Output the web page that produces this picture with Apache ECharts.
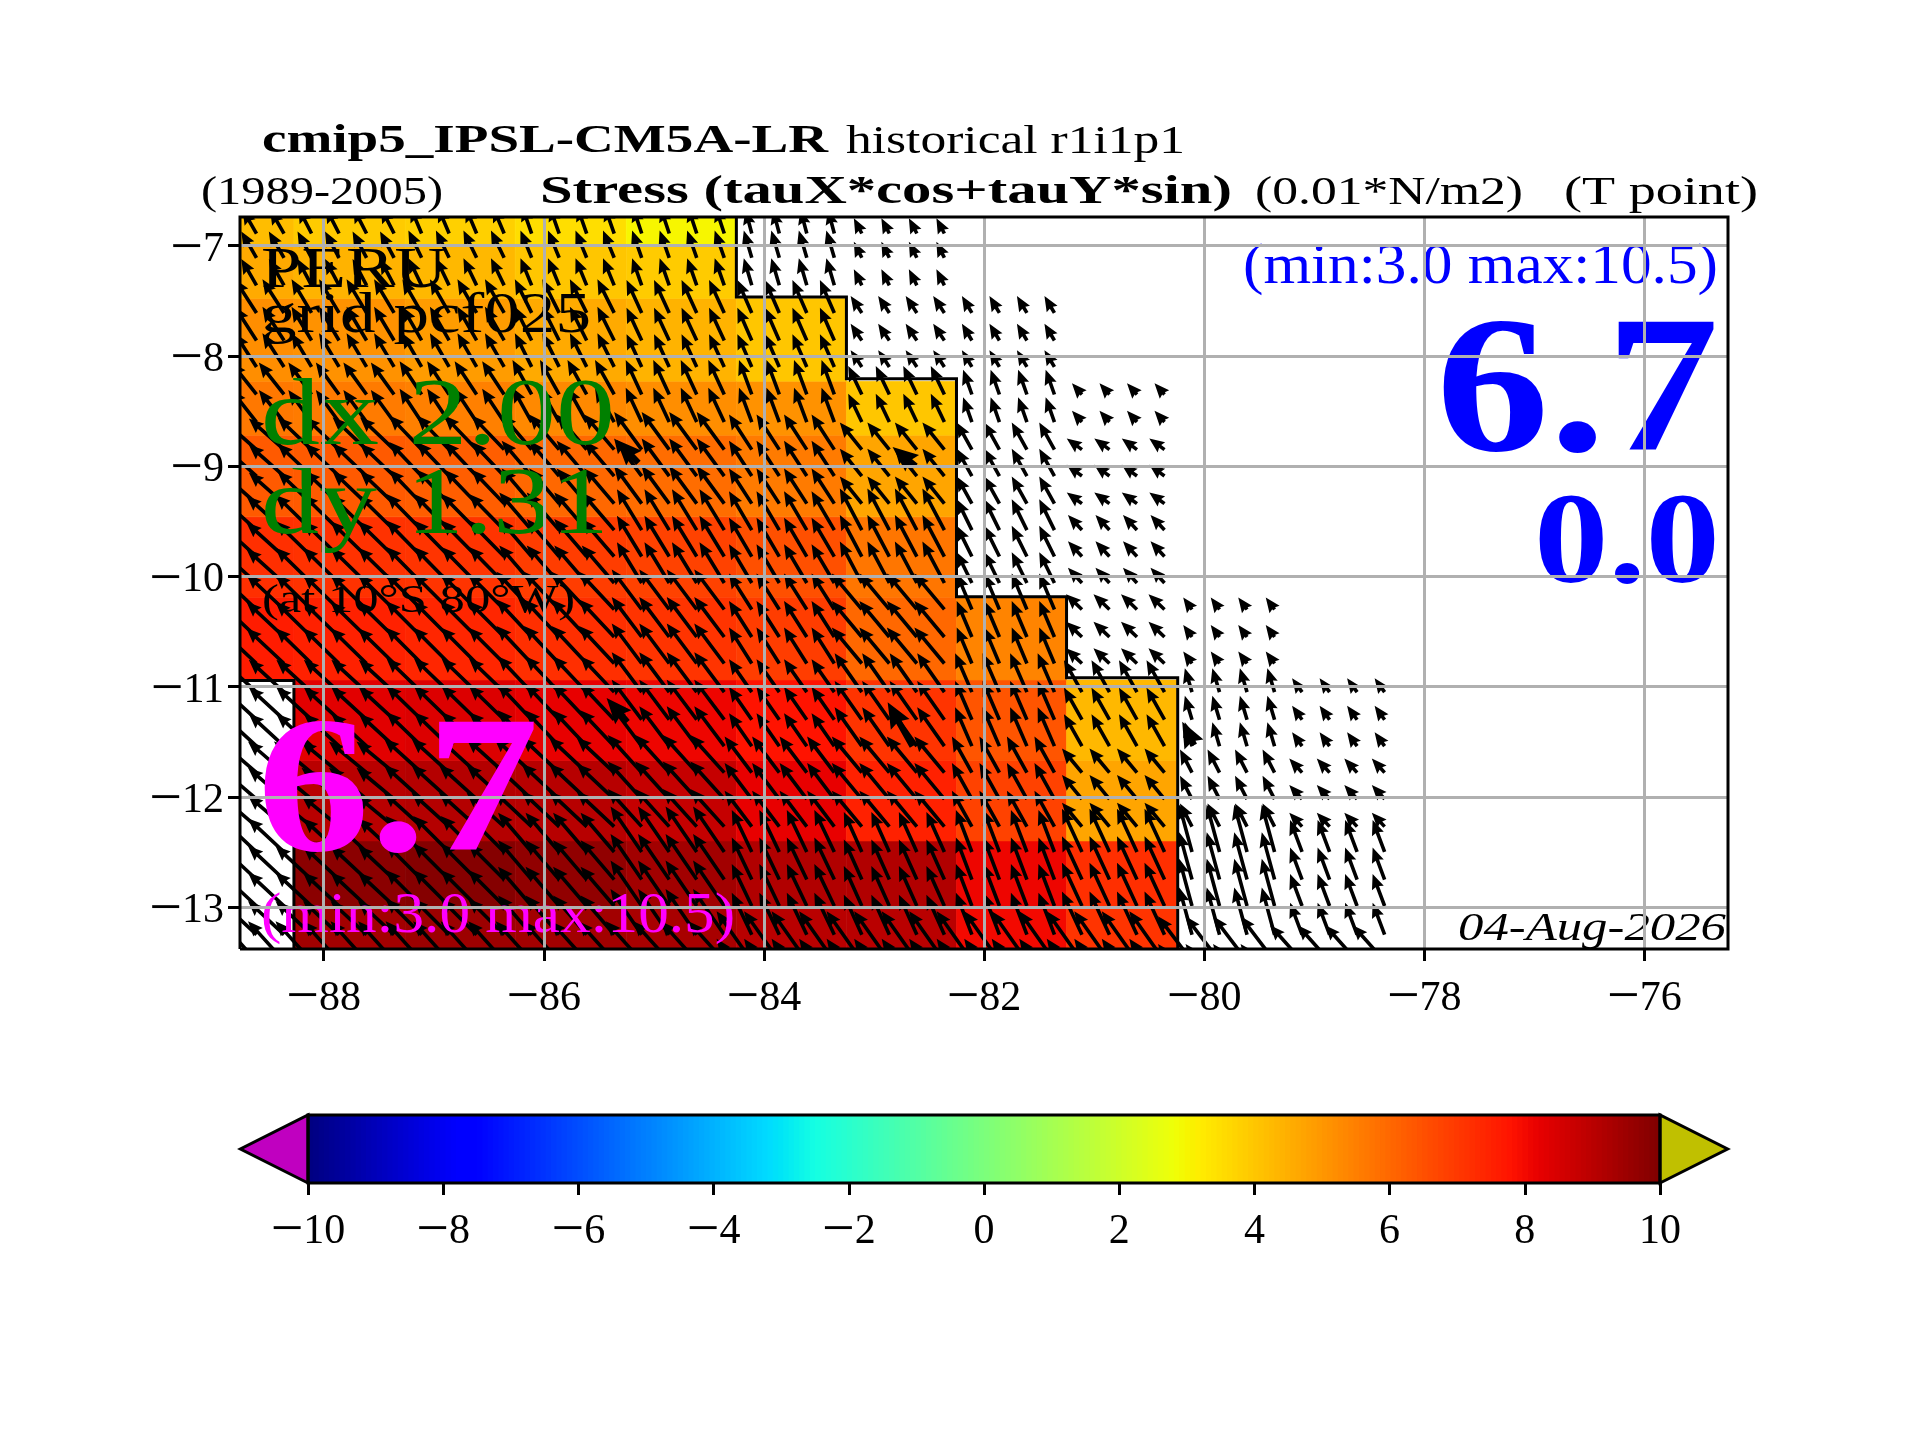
<!DOCTYPE html>
<html><head><meta charset="utf-8">
<style>html,body{margin:0;padding:0;background:#fff}#c{width:1920px;height:1440px}</style>
<script src="https://cdn.jsdelivr.net/npm/echarts@6/dist/echarts.min.js"></script>
</head><body><div id="c"></div>
<script>
// ---------- data ----------
const xTicks = [-88,-86,-84,-82,-80,-78,-76];
const yTicks = [-13,-12,-11,-10,-9,-8,-7];
const cbTicks = [-10,-8,-6,-4,-2,0,2,4,6,8,10];
const lonEdges = [-88.76,-88.27,-87.26,-86.26,-85.25,-84.25,-83.25,-82.25,-81.25,-80.25];
const latEdges = [-13.38,-12.99,-12.40,-11.67,-10.94,-10.19,-9.46,-8.72,-8.23,-7.48,-7.0,-6.74];
const stressR0  = [null,9.4,9.5,9.4,9.3,9.0,9.0,8.0,7.1];
const stressR1  = [null,9.8,9.9,9.7,9.4,9.15,9.15,8.1,7.2];
const stressR2  = [null,9.0,9.1,9.05,8.8,8.2,7.5,6.8,4.7];
const stressR3  = [null,8.3,8.4,8.2,8.1,7.8,7.1,6.4,4.3];
const stressR4  = [7.6,7.5,7.4,7.2,7.1,6.9,6.0,5.4];
const stressR5  = [7.2,7.15,7.1,6.9,6.8,6.5,5.7];
const stressR6  = [6.3,6.3,6.2,6.0,5.9,5.6,4.7];
const stressR7  = [5.65,5.6,5.5,5.3,5.2,5.1,4.0];
const stressR8  = [5.2,5.1,4.9,4.6,4.4,4.0];
const stressR9  = [4.6,4.4,4.3,4.0,3.9];
const stressR10 = [4.2,3.9,3.8,3.5,3.0];
const stressRows = [stressR0,stressR1,stressR2,stressR3,stressR4,stressR5,stressR6,stressR7,stressR8,stressR9,stressR10];
// staircase outline of the coloured area
const outlineLons = [-84.25,-84.25,-83.25,-83.25,-82.25,-82.25,-81.25,-81.25,-80.24,-80.24];
const outlineLats = [-6.74,-7.465,-7.465,-8.207,-8.207,-10.185,-10.185,-10.92,-10.92,-13.38];
const stripLons = [-88.27,-88.27,-88.76];
const stripLats = [-13.38,-10.945,-10.945];
// arrow tails: longitude groups (one group per block column), latitude groups (one per block row)
const arrowLonGroups = [
 [-89.11,-88.86,-88.61,-88.36],[-88.11,-87.86,-87.61,-87.36],[-87.11,-86.86,-86.61,-86.36],[-86.11,-85.86,-85.61,-85.36],
 [-85.11,-84.86,-84.61,-84.36],[-84.11,-83.86,-83.61,-83.36],[-83.11,-82.86,-82.61,-82.36],[-82.11,-81.86,-81.61,-81.36],
 [-81.11,-80.86,-80.61,-80.36],[-80.11,-79.86,-79.61,-79.36],[-79.11,-78.86,-78.61,-78.36]];
const arrowLatGroups = [
 [-13.74,-13.49],[-13.25,-12.99,-12.75,-12.5],[-12.27,-12.02,-11.78],[-11.54,-11.30,-11.05],[-10.79,-10.55,-10.30],
 [-10.06,-9.82,-9.58],[-9.34,-9.09,-8.85],[-8.60,-8.35],[-8.10,-7.86,-7.61],[-7.36,-7.11],[-6.89]];
// eastward / northward stress per block
const tauU = [
 [-9,-9,-9,-9,-9,-8.8,-8.8,-8.8,-8.8,-8.5,-8],
 [-9,-9,-9,-8.4,-7.8,-5,-4.5,-4,-5,-3.2,-3],
 [-9,-9.4,-9.4,-9.4,-8.5,-6.8,-7.5,-5,-5,-3,-3.2],
 [-8.8,-8.8,-8.8,-8.5,-7.5,-5.7,-6.8,-4.2,-4.5,-1.8,-2.5],
 [-9.4,-9,-9,-8.8,-7.5,-5.7,-7.5,-3.8,-4,-2.2],
 [-9.4,-9,-8.8,-8.1,-6.2,-5.7,-5.5,-3.8,-3.5],
 [-8.8,-8.5,-8.1,-7.5,-6.9,-5.7,-5.5,-3.8,-3.8],
 [-6.3,-5.8,-5.5,-4.8,-4,-3.2,-3.4,-2.2,-2.5],
 [-5.4,-5,-4.8,-4.2,-3.8,-3.6,-2.8,-2.5],
 [-3.8,-3.5,-3.3,-2.8,-2.4,-2,-2],
 [-3.5,-3.3,-2.8,-2.4,-2.2,-1.6,-2]];
const tauV = [
 [10,10,10,10,10,12.5,12.5,12.5,12.5,11.2,9],
 [8.4,8.4,9,9.8,11.4,10.5,10,10.5,10.8,11.8,8],
 [7.8,7.8,8.5,8.8,9.4,9,9,9,6,5.8,3.5],
 [8.1,8.1,8.5,9,10,8.2,9.7,9.7,8,6,3.5],
 [8.8,8.8,9,9.4,10,9,9,9,3.8,3],
 [8.5,8.8,9,9.4,10.2,9.7,10.4,7.7,3.8],
 [7.8,8.1,8.5,8.8,9.4,8.8,6.8,6.8,2.8],
 [8,8,8.3,8.6,8.6,8.6,7.1,6.2,2.8],
 [8.4,8.4,8.4,8.4,8.2,8.2,4.2,4.2],
 [6.6,6.6,6.8,6.8,6.8,6.8,4],
 [6,6.4,6.6,6.8,6.6,6,3.8]];
// the five heavier arrows
const bigLons = [-82.65,-80.09,-82.62,-85.14,-85.24];
const bigLats = [-11.54,-11.53,-9.0,-8.97,-11.32];
const bigU = [-6.2,-3,-5.8,-5.5,-5.2];
const bigV = [11,5.8,4.8,5.8,6];
const cbExtend = [-11,11];

// ---------- helpers ----------
function jetCh(t,p){for(let i=1;i<p.length;i++){if(t<=p[i][0]){const a=p[i-1],b=p[i];return a[1]+(b[1]-a[1])*(t-a[0])/(b[0]-a[0]);}}return p[p.length-1][1];}
function jet(v){
 const t=Math.max(0,Math.min(1,(v+10)/20));
 const r=jetCh(t,[[0,0],[.35,0],[.66,1],[.89,1],[1,.5]]);
 const g=jetCh(t,[[0,0],[.125,0],[.375,1],[.64,1],[.91,0],[1,0]]);
 const b=jetCh(t,[[0,.5],[.11,1],[.34,1],[.65,0],[1,0]]);
 return `rgb(${Math.round(r*255)},${Math.round(g*255)},${Math.round(b*255)})`;
}
const cells=[];
stressRows.forEach((row,r)=>row.forEach((v,c)=>{if(v!==null)cells.push([lonEdges[c],lonEdges[c+1],latEdges[r],latEdges[r+1],v]);}));
const arrows=[];
tauU.forEach((row,r)=>row.forEach((u,c)=>{
  arrowLatGroups[r].forEach(la=>arrowLonGroups[c].forEach(lo=>arrows.push([lo,la,u,tauV[r][c],1])));
}));
bigLons.forEach((lo,i)=>arrows.push([lo,bigLats[i],bigU[i],bigV[i],1.7]));
const PX_PER_UNIT=4;
const cbSteps=[];
for(let i=0;i<256;i++)cbSteps.push([-10+i*20/256,-10+(i+1)*20/256]);

const FONT='"Liberation Serif"';
const mctx=document.createElement('canvas').getContext('2d');
function T(text,x0,x1,base,size,color,weight,style){
  const font=`${style||'normal'} ${weight||'normal'} ${size}px ${FONT}`;
  mctx.font=font;
  const w=mctx.measureText(text).width;
  return {type:'text',z:10,x:x0,y:base-0.273*size,scaleX:(x1-x0)/w,silent:true,
    style:{text,font,fill:color||'#000',textAlign:'left',verticalAlign:'middle'}};
}
const texts=[
 T('cmip5_IPSL-CM5A-LR',262,828,153,40,'#000','bold'),
 T('historical r1i1p1',846,1185,153,40),
 T('(1989-2005)',201,443,204,40),
 T('Stress (tauX*cos+tauY*sin)',540,1232,204,40,'#000','bold'),
 T('(0.01*N/m2)',1255,1523,204,40),
 T('(T point)',1564,1758,204,40),
 T('PERU',261,447,288,56),
 T('grid pcf025',261,591,333,56),
 T('dx 2.00',261,615,445,95,'#008000'),
 T('dy 1.31',261,609,534,95,'#008000'),
 T('(at 10°S 80°W)',262,575,612,40),
 T('6.7',257,539,853,195,'#ff00ff','bold'),
 T('(min:3.0 max:10.5)',261,735,933,56,'#ff00ff'),
 T('(min:3.0 max:10.5)',1243,1718,284,56,'#0000ff'),
 T('6.7',1436,1719,453,195,'#0000ff','bold'),
 T('0.0',1534,1720,584,130,'#0000ff','bold'),
 T('04-Aug-2026',1458,1726,940,40,'#000','normal','italic')
];
const lab=v=>v<0?`{m|\u2212}{d|${-v}}`:`{d|${v}}`;
const lw=3;
const richFor=lh=>({m:{fontFamily:FONT,fontSize:58,color:'#000',lineHeight:lh},d:{fontFamily:FONT,fontSize:42,color:'#000',lineHeight:lh}});

function renderCell(p,api){
 const a=api.coord([api.value(0),api.value(2)]),b=api.coord([api.value(1),api.value(3)]);
 const col=jet(api.value(4));
 return {type:'rect',shape:{x:a[0],y:b[1],width:b[0]-a[0],height:a[1]-b[1]},style:{fill:col,stroke:col,lineWidth:0.6}};
}
function renderArrow(p,api){
 const o=api.coord([api.value(0),api.value(1)]);
 const dx=api.value(2)*PX_PER_UNIT,dy=-api.value(3)*PX_PER_UNIT,m=api.value(4);
 const L=Math.hypot(dx,dy),ux=dx/L,uy=dy/L;
 const head=15*m,k=L<head?L/head:1;
 const hl=head*k,ax=13.5*m*k,hw=6.3*m*k,sw=1.8*m*k;
 const P=(s,n)=>[o[0]+ux*s-uy*n,o[1]+uy*s+ux*n];
 return {type:'polygon',shape:{points:[P(0,-sw),P(L-ax,-sw),P(L-hl,-hw),P(L,0),P(L-hl,hw),P(L-ax,sw),P(0,sw)]},style:{fill:'#000'}};
}
function lineSeries(lons,lats,z,clip){
 return {type:'custom',coordinateSystem:'cartesian2d',xAxisIndex:0,yAxisIndex:0,z,clip:!!clip,silent:true,
   data:lons.map((lo,i)=>[lo,lats[i]]),
   renderItem(p,api){
     if(p.dataIndex!==0)return null;
     return {type:'polyline',shape:{points:lons.map((lo,i)=>api.coord([lo,lats[i]]))},style:{fill:null,stroke:'#000',lineWidth:lw}};
   }};
}
const option={
 backgroundColor:'#fff',animation:false,
 grid:[{left:240,top:217,width:1488,height:732,show:false},{left:308,top:1115,width:1352,height:68,show:false}],
 xAxis:[
  {type:'value',gridIndex:0,min:-88.76,max:-75.24,z:20,
   axisLine:{show:false},
   axisTick:{show:true,length:12,inside:false,lineStyle:{color:'#000',width:lw},customValues:xTicks},
   axisLabel:{margin:26,customValues:xTicks,formatter:lab,rich:richFor(48)},
   splitLine:{show:true,lineStyle:{color:'#b0b0b0',width:lw}}},
  {type:'value',gridIndex:1,min:-10,max:10,interval:2,z:20,
   axisLine:{show:false},
   axisTick:{show:true,length:12,lineStyle:{color:'#000',width:lw},customValues:cbTicks},
   axisLabel:{margin:25,customValues:cbTicks,formatter:lab,rich:richFor(48)},
   splitLine:{show:false}}],
 yAxis:[
  {type:'value',gridIndex:0,min:-13.38,max:-6.74,z:20,
   axisLine:{show:false},
   axisTick:{show:true,length:12,lineStyle:{color:'#000',width:lw},customValues:yTicks},
   axisLabel:{margin:16,verticalAlign:'top',customValues:yTicks,formatter:lab,rich:richFor(8)},
   splitLine:{show:true,lineStyle:{color:'#b0b0b0',width:lw}}},
  {type:'value',gridIndex:1,min:0,max:1,show:false}],
 graphic:{elements:texts},
 series:[
  {type:'custom',name:'stress',coordinateSystem:'cartesian2d',xAxisIndex:0,yAxisIndex:0,z:2,clip:true,silent:true,
   encode:{x:[0,1],y:[2,3]},data:cells,renderItem:renderCell},
  lineSeries(outlineLons,outlineLats,3,true),
  lineSeries(stripLons,stripLats,3,true),
  {type:'custom',name:'wind stress arrows',coordinateSystem:'cartesian2d',xAxisIndex:0,yAxisIndex:0,z:4,clip:true,silent:true,
   encode:{x:0,y:1},data:arrows,renderItem:renderArrow},
  // frame on top of everything in the map
  lineSeries([-88.76,-75.24,-75.24,-88.76,-88.76],[-13.38,-13.38,-6.74,-6.74,-13.38],30,false),
  // colour bar
  {type:'custom',coordinateSystem:'cartesian2d',xAxisIndex:1,yAxisIndex:1,z:2,silent:true,clip:false,
   encode:{x:[0,1]},data:cbSteps,
   renderItem(p,api){
     const a=api.coord([api.value(0),0]),b=api.coord([api.value(1),1]);
     const col=jet((api.value(0)+api.value(1))/2);
     const extra=p.dataIndex<cbSteps.length-1?2:0;
     return {type:'rect',shape:{x:a[0],y:b[1],width:b[0]-a[0]+extra,height:a[1]-b[1]},style:{fill:col}};
   }},
  {type:'custom',coordinateSystem:'cartesian2d',xAxisIndex:1,yAxisIndex:1,z:3,silent:true,clip:false,
   data:[[0]],
   renderItem(p,api){
     const c=(x,y)=>api.coord([x,y]);
     return {type:'group',children:[
       {type:'polygon',shape:{points:[c(-10,0),c(cbExtend[0],.5),c(-10,1)]},style:{fill:'#c000c0',stroke:'#000',lineWidth:lw}},
       {type:'polygon',shape:{points:[c(10,0),c(cbExtend[1],.5),c(10,1)]},style:{fill:'#c0c000',stroke:'#000',lineWidth:lw}},
       {type:'polygon',shape:{points:[c(-10,0),c(10,0),c(10,1),c(-10,1)]},style:{fill:null,stroke:'#000',lineWidth:lw}}
     ]};
   }}
 ]
};
const chart=echarts.init(document.getElementById('c'),null,{renderer:'canvas',width:1920,height:1440});
chart.setOption(option);
</script></body></html>
